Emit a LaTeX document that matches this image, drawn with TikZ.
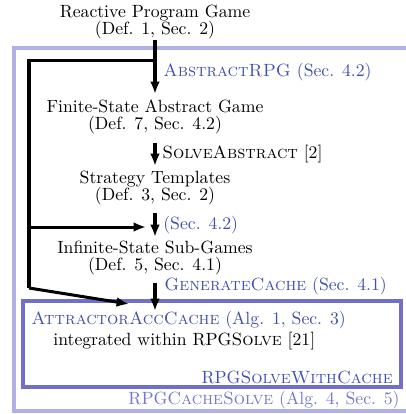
\documentclass[tikz,border=0pt]{standalone}
\usetikzlibrary{arrows.meta}
\definecolor{outerc}{RGB}{176,176,232}
\definecolor{innerc}{RGB}{112,112,200}
\definecolor{bluet}{RGB}{64,80,176}
\definecolor{lightt}{RGB}{112,120,208}
\begin{document}
\begin{tikzpicture}[x=0.565pt,y=-0.565pt,
  txt/.style={align=center,inner sep=0pt,font=\fontsize{10}{9.6}\selectfont},
  lbl/.style={inner sep=0pt,anchor=west,font=\fontsize{10}{9.6}\selectfont},
  arr/.style={-{Latex[length=7pt,width=5.5pt]},line width=1.7pt},
  ln/.style={line width=1.7pt}]
\useasboundingbox (0,0) rectangle (406,414);
% boxes
\draw[outerc,line width=1.8pt] (14,48) rectangle (420,411);
\draw[innerc,line width=1.8pt] (23,301) rectangle (401,387);
% nodes
\node[txt] (rpg) at (155,22) {Reactive Program Game\\(Def. 1, Sec. 2)};
\node[txt] (fsag) at (155,117) {Finite-State Abstract Game\\(Def. 7, Sec. 4.2)};
\node[txt] (st) at (155,188) {Strategy Templates\\(Def. 3, Sec. 2)};
\node[txt] (isg) at (155,258) {Infinite-State Sub-Games\\(Def. 5, Sec. 4.1)};
\node[lbl,text=bluet] (l1) at (163,72) {\textsc{AbstractRPG} (Sec. 4.2)};
\node[lbl] (l2) at (162,154) {\textsc{SolveAbstract} [2]};
\node[lbl,text=bluet] (l3) at (163,225) {(Sec. 4.2)};
\node[lbl,text=bluet] (l4) at (164,286) {\textsc{GenerateCache} (Sec. 4.1)};
\node[lbl,text=bluet] (aac) at (31,320) {\textsc{AttractorAccCache} (Alg. 1, Sec. 3)};
\node[lbl] (integ) at (53,341) {integrated within RPG\textsc{Solve} [21]};
\node[inner sep=0pt,anchor=east,text=bluet,font=\fontsize{10}{9.6}\selectfont] (wc) at (393,377) {RPG\textsc{SolveWithCache}};
\node[inner sep=0pt,anchor=east,text=lightt,font=\fontsize{10}{9.6}\selectfont] (cs) at (400,400) {RPG\textsc{CacheSolve} (Alg. 4, Sec. 5)};
% connector coordinates
\coordinate (a1s) at (155,40);
\coordinate (a1e) at (155,94);
\coordinate (br) at (155,60);
\coordinate (c1) at (29,60);
\coordinate (c2) at (29,227);
\coordinate (c3) at (29,288);
\coordinate (h2) at (146,227);
\coordinate (d2) at (129,304);
\coordinate (a2s) at (155,143);
\coordinate (a2e) at (155,166);
\coordinate (a3s) at (155,213);
\coordinate (a3e) at (155,237);
\coordinate (a4s) at (155,283);
\coordinate (a4e) at (155,311);
% connectors
\draw[arr] (a1s) -- (a1e);
\draw[ln] (br) -- (c1) -- (c3);
\draw[arr] (c2) -- (h2);
\draw[arr] (c3) -- (d2);
\draw[arr] (a2s) -- (a2e);
\draw[arr] (a3s) -- (a3e);
\draw[arr] (a4s) -- (a4e);
\end{tikzpicture}
\end{document}
